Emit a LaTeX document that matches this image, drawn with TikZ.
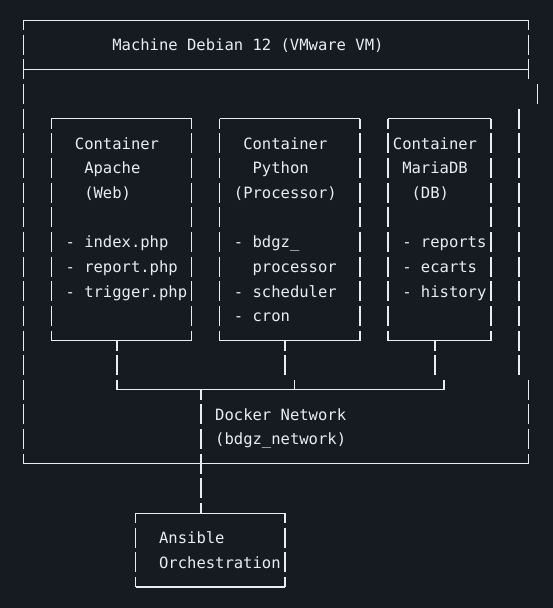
\documentclass[tikz,border=0pt]{standalone}
\usepackage{fontspec}
\newfontfamily\monofont{DejaVu Sans Mono}
\definecolor{bgcol}{HTML}{161B22}
\definecolor{inkcol}{HTML}{E6EDF3}
% one character cell
\newcommand\colw{9.352pt}
\newcommand\rowh{24.65pt}
% box of text characters: solid top and bottom, broken sides
\newcommand\asciibox[1]{%
  \draw[hline] (#1.north west) -- (#1.north east);
  \draw[hline] (#1.south west) -- (#1.south east);
  \draw[vline] (#1.north west) -- (#1.south west);
  \draw[vline] (#1.north east) -- (#1.south east);}
\tikzset{
  hline/.style={draw=inkcol, line width=1.1pt},
  vline/.style={draw=inkcol, line width=1.5pt, dash pattern=on 20pt off 4.65pt, dash phase=10pt},
  vcell/.style={vline, dash phase=0pt},
  txt/.style={font=\monofont\fontsize{15.53pt}{20pt}\selectfont, text=inkcol, anchor=base west, inner sep=0pt, yshift=-5.8pt},
  cbox/.style={inner sep=0pt, outer sep=0pt, minimum height=9*\rowh}
}
\begin{document}
\begin{tikzpicture}[x=9.352pt, y=-24.65pt]
  \fill[bgcol] (-23.3pt,20.05pt) rectangle (529.7pt,-587.95pt);

  % the VM frame
  \draw[hline] (0,0) -- (54,0);
  \draw[hline] (0,2) -- (54,2);
  \draw[hline] (0,18) -- (54,18);
  \draw[vline] (0,0) -- (0,18);
  \draw[vline] (54,0) -- (54,2.4057);
  \draw[vcell] (55,2.5943) -- (55,3.4057);
  \draw[vcell] (53,3.5943) -- (53,14.4057);
  \draw[vcell] (54,14.5943) -- (54,18);
  \node[txt] (title) at (9.5,1) {Machine Debian 12 (VMware VM)};

  % containers
  \node[cbox, minimum width=15*\colw] (apache) at (10.5,8.5) {};
  \node[cbox, minimum width=15*\colw] (python) at (28.5,8.5) {};
  \node[cbox, minimum width=11*\colw] (mariadb) at (44.5,8.5) {};
  \asciibox{apache}
  \asciibox{python}
  \asciibox{mariadb}

  \node[txt] (apache1) at (5.5,5) {Container};
  \node[txt] (apache2) at (6.5,6) {Apache};
  \node[txt] (apache3) at (6.5,7) {(Web)};
  \node[txt] (apache4) at (4.5,9) {- index.php};
  \node[txt] (apache5) at (4.5,10) {- report.php};
  \node[txt] (apache6) at (4.5,11) {- trigger.php};

  \node[txt] (python1) at (23.5,5) {Container};
  \node[txt] (python2) at (24.5,6) {Python};
  \node[txt] (python3) at (22.5,7) {(Processor)};
  \node[txt] (python4) at (22.5,9) {- bdgz\_};
  \node[txt] (python5) at (24.5,10) {processor};
  \node[txt] (python6) at (22.5,11) {- scheduler};
  \node[txt] (python7) at (22.5,12) {- cron};

  \node[txt] (mariadb1) at (39.5,5) {Container};
  \node[txt] (mariadb2) at (40.5,6) {MariaDB};
  \node[txt] (mariadb3) at (41.5,7) {(DB)};
  \node[txt] (mariadb4) at (40.5,9) {- reports};
  \node[txt] (mariadb5) at (40.5,10) {- ecarts};
  \node[txt] (mariadb6) at (40.5,11) {- history};

  % docker network
  \coordinate (busL) at (10,15);
  \coordinate (busM) at (29,15);
  \coordinate (busR) at (45,15);
  \coordinate (trunk) at (19,15);
  \coordinate (pytick) at (28,14.4057);
  \coordinate (dbtick) at (44,14.4057);
  \draw[vline] (apache.south -| busL) -- (busL);
  \draw[vline] (python.south -| pytick) -- (pytick);
  \draw[vline] (mariadb.south -| dbtick) -- (dbtick);
  \draw[vcell] (busM) ++(0,-0.4057) -- (busM);
  \draw[vcell] (busR) ++(0,-0.4057) -- (busR);
  \draw[hline] (busL) -- (busR);
  \node[txt] (net1) at (20.5,16) {Docker Network};
  \node[txt] (net2) at (20.5,17) {(bdgz\_network)};

  % ansible
  \node[cbox, minimum width=16*\colw, minimum height=3*\rowh] (ansible) at (20,21.5) {};
  \asciibox{ansible}
  \node[txt] (ansible1) at (14.5,21) {Ansible};
  \node[txt] (ansible2) at (14.5,22) {Orchestration};
  \draw[vline] (trunk) -- (ansible.north -| trunk);
\end{tikzpicture}
\end{document}
